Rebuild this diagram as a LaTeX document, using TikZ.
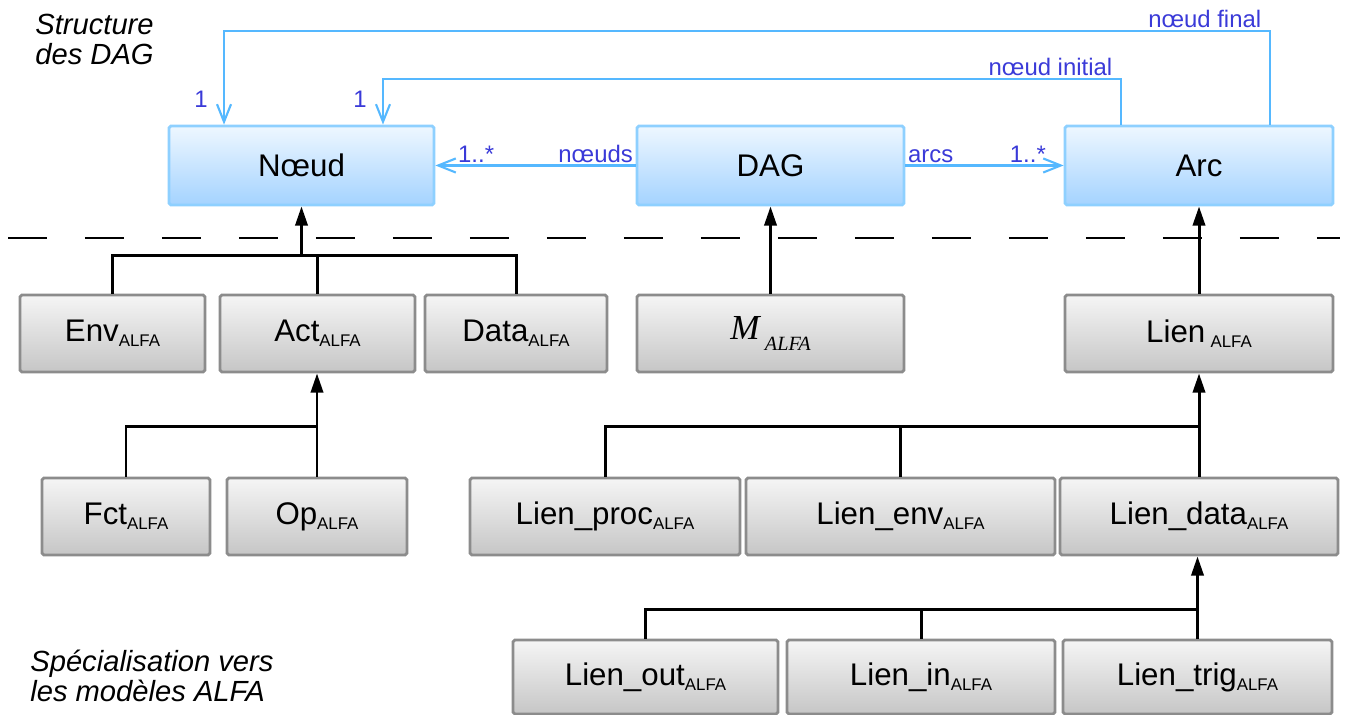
\documentclass[tikz,border=0pt]{standalone}
\usepackage{fontspec}
\setmainfont{Liberation Sans}
\newfontfamily\timesfont{Liberation Serif}
\usetikzlibrary{positioning,arrows.meta}
\definecolor{bleutrait}{HTML}{55B8FF}
\definecolor{bleutexte}{HTML}{3A3AD8}
\definecolor{bleuhaut}{HTML}{EEF7FF}
\definecolor{bleubas}{HTML}{A4D3FF}
\definecolor{bleubord}{HTML}{8ED0FF}
\definecolor{grishaut}{HTML}{F5F5F5}
\definecolor{grisbas}{HTML}{C6C6C6}
\definecolor{grisbord}{HTML}{8C8C8C}
\newcommand{\alfa}{\raisebox{-3pt}{\fontsize{9.6}{10}\selectfont ALFA}}

\begin{document}
\begin{tikzpicture}[x=0.02cm,y=-0.02cm,
  classe/.style={rectangle,rounded corners=1pt,line width=1.6pt,inner sep=0pt,font=\fontsize{17.8}{20}\selectfont},
  bleue/.style={classe,draw=bleubord,top color=bleuhaut,bottom color=bleubas,minimum height=1.58cm},
  grise/.style={classe,draw=grisbord,top color=grishaut,bottom color=grisbas,minimum height=1.54cm},
  assoc/.style={draw=bleutrait,line width=1.2pt,-{Straight Barb[length=10pt,width=8pt]}},
  role/.style={text=bleutexte,font=\fontsize{13.6}{15}\selectfont,inner sep=1pt},
  herit/.style={line width=1.7pt},
  fleche/.style={herit,-{Triangle[length=11pt,width=7pt]}},
  legende/.style={align=left,font=\fontsize{16.6}{17}\selectfont\itshape,inner sep=0pt}]
\useasboundingbox (0,0) rectangle (1345,715);

\node[legende,anchor=north west] (titre) at (35,14) {Structure\\des DAG};
\node[legende,anchor=north west] (soustitre) at (30,650) {Spécialisation vers\\les modèles ALFA};

\node[bleue,minimum width=5.3cm] (noeud) at (301.5,165.5) {Nœud};
\node[bleue,minimum width=5.34cm] (dag) at (770.5,165.5) {DAG};
\node[bleue,minimum width=5.36cm] (arc) at (1199,165.5) {Arc};

\node[grise,minimum width=3.7cm] (env) at (112.5,333.5) {Env\alfa};
\node[grise,minimum width=3.9cm] (act) at (317.5,333.5) {Act\alfa};
\node[grise,minimum width=3.64cm] (data) at (516,333.5) {Data\alfa};
\node[grise,minimum width=5.34cm] (malfa) at (770.5,333.5) {{\timesfont\itshape\fontsize{20}{20}\selectfont M}\,\raisebox{-6pt}{\timesfont\itshape\fontsize{11.5}{11.5}\selectfont ALFA}};
\node[grise,minimum width=5.36cm] (lien) at (1199,333.5) {Lien\,\alfa};

\node[grise,minimum width=3.36cm] (fct) at (126,516.5) {Fct\alfa};
\node[grise,minimum width=3.6cm] (op) at (317,516.5) {Op\alfa};
\node[grise,minimum width=5.4cm] (lienproc) at (605,516.5) {Lien\_proc\alfa};
\node[grise,minimum width=6.18cm] (lienenv) at (900.5,516.5) {Lien\_env\alfa};
\node[grise,minimum width=5.56cm] (liendata) at (1199,516.5) {Lien\_data\alfa};

\node[grise,minimum width=5.3cm,minimum height=1.48cm] (lienout) at (645.5,677) {Lien\_out\alfa};
\node[grise,minimum width=5.36cm,minimum height=1.48cm] (lienin) at (921,677) {Lien\_in\alfa};
\node[grise,minimum width=5.38cm,minimum height=1.48cm] (lientrig) at (1197.5,677) {Lien\_trig\alfa};

\draw[dash pattern=on 0.78cm off 0.76cm,line width=0.8pt] (8,238) -- (1340,238);

\draw[assoc] (dag.west) -- node[pos=0,role,above left]{nœuds} node[pos=1,role,above right,xshift=0.4cm]{1..*} (noeud.east);
\draw[assoc] (dag.east) -- node[pos=0,role,above right]{arcs} node[pos=1,role,above left,xshift=-0.3cm]{1..*} (arc.west);
\draw[assoc] ([xshift=-1.56cm]arc.north) -- ++(0,-46) node[role,above left,xshift=-0.12cm]{nœud initial}
  -| ([xshift=1.63cm]noeud.north) node[role,anchor=south east,xshift=-0.27cm,yshift=0.29cm]{1};
\draw[assoc] ([xshift=1.42cm]arc.north) -- ++(0,-94) node[role,above left,xshift=-0.12cm]{nœud final}
  -| ([xshift=-1.55cm]noeud.north) node[role,anchor=south east,xshift=-0.27cm,yshift=0.29cm]{1};

\coordinate[below=0.98cm of noeud.south] (jNoeud);
\draw[herit] (env.north) |- (data.north |- jNoeud) -- (data.north);
\draw[herit] (act.north) -- (act.north |- jNoeud);
\draw[fleche] (jNoeud) -- (noeud.south);

\draw[fleche] (malfa.north) -- (dag.south);
\draw[fleche] (lien.north) -- (arc.south);

\coordinate[below=1.06cm of act.south] (jAct);
\draw[herit] (fct.north) |- (jAct);
\draw[fleche] (op.north) -- (op.north |- act.south);

\coordinate[below=1.06cm of lien.south] (jLien);
\draw[herit] (lienproc.north) |- (jLien);
\draw[herit] (lienenv.north) -- (lienenv.north |- jLien);
\draw[fleche] (liendata.north) -- (liendata.north |- lien.south);

\coordinate[below=1.06cm of liendata.south] (jData);
\draw[herit] (lienout.north) |- (jData);
\draw[herit] (lienin.north) -- (lienin.north |- jData);
\draw[fleche] (lientrig.north) -- (lientrig.north |- liendata.south);
\end{tikzpicture}
\end{document}
